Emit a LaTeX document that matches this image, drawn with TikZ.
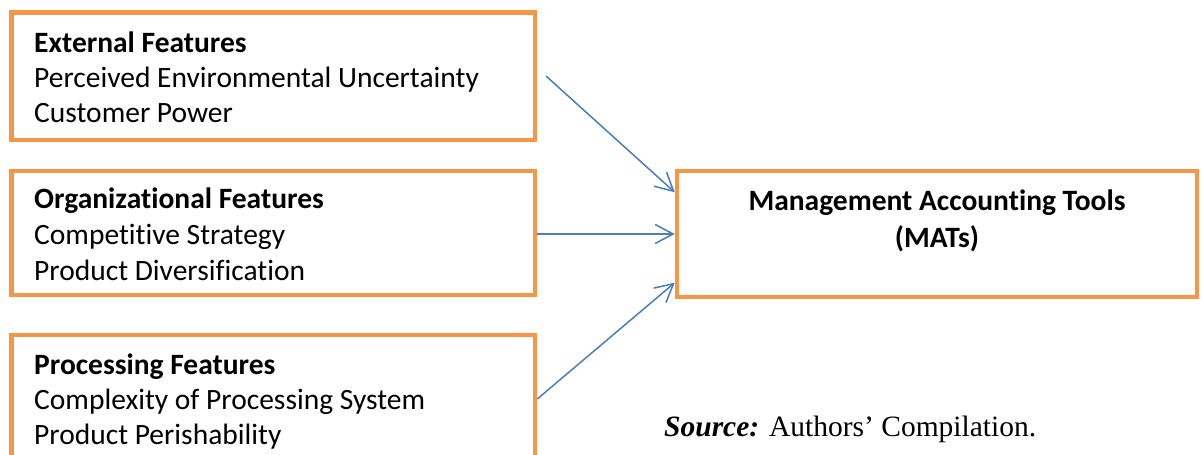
\documentclass[tikz,border=0pt]{standalone}
\usepackage{fontspec}
\setmainfont[Ligatures={NoCommon}]{Carlito}
\newfontfamily\srcfont{Liberation Serif}
\usetikzlibrary{arrows.meta}
\definecolor{boxorange}{HTML}{F79646}
\definecolor{arrowblue}{HTML}{4A7EBB}
\begin{document}
\begin{tikzpicture}[x=1pt,y=-1pt,
  box/.style={draw=boxorange, line width=4.5pt, rectangle, inner sep=0pt},
  txt/.style={inner sep=0pt, anchor=base west, font=\fontsize{29.5}{35}\selectfont},
  hd/.style={txt, font=\fontsize{29.5}{35}\selectfont\bfseries},
  mtxt/.style={inner sep=0pt, anchor=base, font=\fontsize{29.5}{35}\selectfont\bfseries},
  arr/.style={draw=arrowblue, line width=1.5pt, -{Straight Barb[length=18pt,width=19pt]}}]
\useasboundingbox (0,0) rectangle (1203,455);
\clip (0,0) rectangle (1203,455);
% boxes
\node[box, minimum width=523.3pt, minimum height=127.7pt] (b1) at (273.35,76.15) {};
\node[box, minimum width=523.3pt, minimum height=124pt] (b2) at (273.35,232.75) {};
\node[box, minimum width=523.3pt, minimum height=128pt] (b3) at (273.35,399) {};
\node[box, minimum width=520pt, minimum height=126pt] (mat) at (937,234) {};
% texts
\node[hd] (t1a) at (34,52) {External Features};
\node[txt] (t1b) at (34,87) {Perceived Environmental Uncertainty};
\node[txt] (t1c) at (34,122) {Customer Power};
\node[hd] (t2a) at (34,208) {Organizational Features};
\node[txt] (t2b) at (34,244) {Competitive Strategy};
\node[txt] (t2c) at (34,280) {Product Diversification};
\node[hd] (t3a) at (34,374) {Processing Features};
\node[txt] (t3b) at (34,409) {Complexity of Processing System};
\node[txt] (t3c) at (34,444) {Product Perishability};
\node[mtxt] (m1) at (937,210) {Management Accounting Tools};
\node[mtxt] (m2) at (937,247) {(MATs)};
\node[inner sep=0pt, anchor=base west, font=\srcfont\fontsize{29.5}{35}\selectfont] (src) at (664,436) {\textbf{\textit{Source:}} Authors’ Compilation.};
% arrows
\coordinate (a1s) at (546,76);
\draw[arr] (a1s) -- ([yshift=41.7pt]mat.west);
\draw[arr] (mat.west -| b2.east) -- (mat.west);
\draw[arr] (b3.east) -- ([yshift=-48.7pt]mat.west);
\end{tikzpicture}
\end{document}
